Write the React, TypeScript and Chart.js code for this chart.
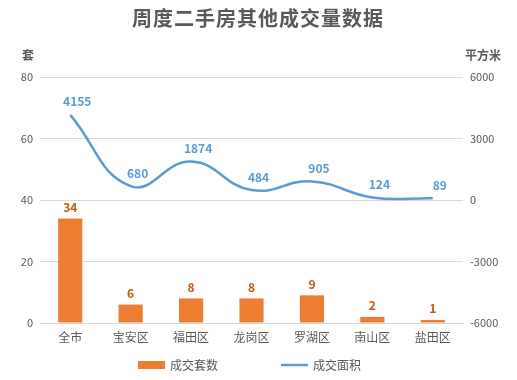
import React, { useEffect, useRef } from "react";
import { Chart, registerables } from "chart.js";

Chart.register(...registerables);

const categories = ["全市", "宝安区", "福田区", "龙岗区", "罗湖区", "南山区", "盐田区"];
const countValues = [34, 6, 8, 8, 9, 2, 1];
const areaValues = [4155, 680, 1874, 484, 905, 124, 89];
const titleText = "周度二手房其他成交量数据";
const leftAxisTitle = "套";
const rightAxisTitle = "平方米";
const countLabel = "成交套数";
const areaLabel = "成交面积";

const FONT = "'Noto Sans CJK SC', 'Noto Sans', sans-serif";
const ORANGE = "#ED7D31";
const ORANGE_TEXT = "#C65911";
const BLUE = "#5B9BD5";
const GRAY = "#595959";

const overlayPlugin = {
  id: "overlay",
  afterDatasetsDraw(chart: any) {
    const ctx = chart.ctx;
    ctx.save();
    const barMeta = chart.getDatasetMeta(0);
    ctx.font = `bold 12px ${FONT}`;
    ctx.fillStyle = ORANGE_TEXT;
    ctx.textAlign = "center";
    ctx.textBaseline = "middle";
    barMeta.data.forEach((el: any, i: number) => {
      ctx.fillText(String(countValues[i]), el.x, el.y - 11);
    });
    const lineMeta = chart.getDatasetMeta(1);
    ctx.fillStyle = BLUE;
    lineMeta.data.forEach((el: any, i: number) => {
      ctx.fillText(String(areaValues[i]), el.x + 7, el.y - 13);
    });
    ctx.restore();
  },
  afterDraw(chart: any) {
    const ctx = chart.ctx;
    ctx.save();
    ctx.textBaseline = "middle";
    ctx.font = `bold 20px ${FONT}`;
    ctx.fillStyle = GRAY;
    ctx.textAlign = "center";
    (ctx as any).letterSpacing = "1px";
    ctx.fillText(titleText, 258, 18);
    (ctx as any).letterSpacing = "0px";
    ctx.font = `bold 12px ${FONT}`;
    ctx.textAlign = "left";
    ctx.fillText(leftAxisTitle, 22, 55);
    ctx.fillText(rightAxisTitle, 465, 55);
    ctx.font = `12px ${FONT}`;
    ctx.fillStyle = ORANGE;
    ctx.fillRect(138, 361, 27, 8);
    ctx.fillStyle = GRAY;
    ctx.fillText(countLabel, 170, 365);
    ctx.strokeStyle = BLUE;
    ctx.lineWidth = 2.5;
    ctx.beginPath();
    ctx.moveTo(281, 365);
    ctx.lineTo(308, 365);
    ctx.stroke();
    ctx.fillText(areaLabel, 313, 365);
    ctx.restore();
  },
};

export default function App() {
  const ref = useRef<HTMLCanvasElement | null>(null);
  useEffect(() => {
    if (!ref.current) return;
    const chart = new Chart(ref.current, {
      data: {
        labels: categories,
        datasets: [
          {
            type: "bar",
            label: countLabel,
            data: countValues,
            backgroundColor: ORANGE,
            yAxisID: "y",
            barPercentage: 0.8,
            categoryPercentage: 0.5,
            order: 2,
          },
          {
            type: "line",
            label: areaLabel,
            data: areaValues,
            borderColor: BLUE,
            borderWidth: 2.5,
            pointRadius: 0,
            tension: 0.45,
            yAxisID: "y1",
            order: 1,
          },
        ],
      } as any,
      options: {
        responsive: false,
        animation: false,
        layout: { padding: { top: 77, left: 0, right: 0, bottom: 32 } },
        plugins: {
          legend: { display: false },
          title: { display: false },
          tooltip: { enabled: false },
        },
        scales: {
          x: {
            grid: { display: false, drawTicks: false },
            border: { display: true, color: "#D9D9D9" },
            ticks: { color: GRAY, font: { family: FONT, size: 12 }, padding: 7, maxRotation: 0 },
            afterFit(scale: any) {
              scale.height = 25;
            },
          },
          y: {
            position: "left",
            min: 0,
            max: 80,
            ticks: { stepSize: 20, color: GRAY, font: { family: FONT, size: 11 }, padding: 7 },
            grid: { color: "#D9D9D9", drawTicks: false },
            border: { display: false },
            afterFit(scale: any) {
              scale.width = 40;
            },
          },
          y1: {
            position: "right",
            min: -6000,
            max: 6000,
            ticks: {
              stepSize: 3000,
              color: GRAY,
              font: { family: FONT, size: 11 },
              padding: 7,
              callback: (v: any) => String(v),
            },
            grid: { display: false, drawTicks: false },
            border: { display: false },
            afterFit(scale: any) {
              scale.width = 54;
            },
          },
        },
      } as any,
      plugins: [overlayPlugin],
    });
    return () => chart.destroy();
  }, []);
  return (
    <div style={{ position: "absolute", left: 0, top: 0, width: 517, height: 380, background: "#fff" }}>
      <canvas ref={ref} width={517} height={380} />
    </div>
  );
}
